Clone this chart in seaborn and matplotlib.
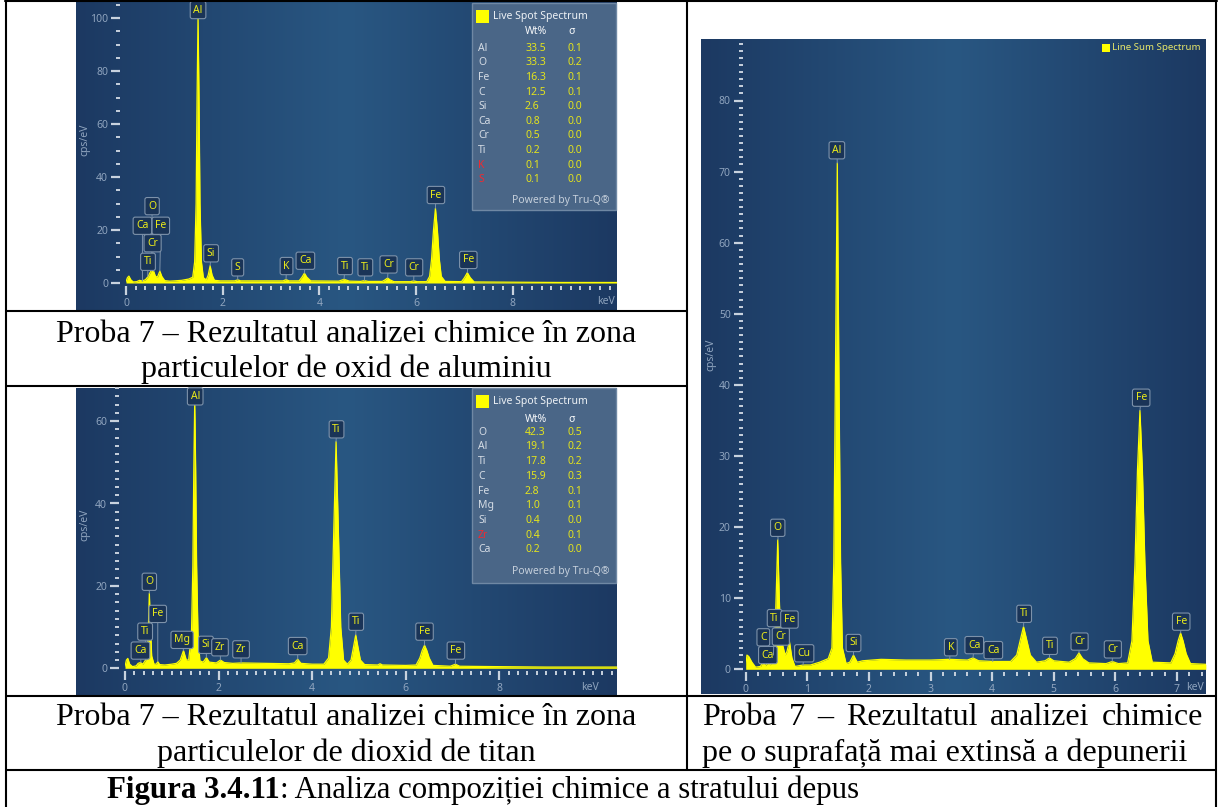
import numpy as np
import matplotlib
matplotlib.use("Agg")
import matplotlib.pyplot as plt
import matplotlib.transforms as mtransforms
from matplotlib.colors import LinearSegmentedColormap
from matplotlib.patches import Rectangle
from matplotlib.lines import Line2D
from matplotlib.ticker import MultipleLocator
import seaborn as sns

# ---------------- date ----------------
# spectrul 1: zona particulelor de oxid de aluminiu (keV, cps/eV)
spec_1 = [(0.00, 0.5), (0.03, 2.0), (0.06, 2.6), (0.10, 1.2), (0.15, 0.4), (0.22, 0.5),
          (0.28, 1.0), (0.33, 0.8), (0.40, 1.2), (0.46, 2.5), (0.50, 4.0), (0.53, 4.8),
          (0.57, 4.5), (0.61, 2.5), (0.65, 2.2), (0.70, 4.5), (0.74, 2.5), (0.80, 0.9),
          (0.90, 0.7), (1.00, 0.8), (1.15, 1.0), (1.30, 1.5), (1.38, 2.2), (1.42, 8.0),
          (1.45, 30.0), (1.47, 70.0), (1.49, 101.0), (1.51, 70.0), (1.53, 30.0), (1.56, 8.0),
          (1.60, 2.0), (1.66, 1.2), (1.70, 3.0), (1.74, 6.5), (1.78, 3.0), (1.83, 1.0),
          (1.95, 0.8), (2.25, 0.8), (2.31, 1.2), (2.37, 0.8), (3.00, 0.8), (3.25, 0.8),
          (3.31, 1.3), (3.37, 0.8), (3.58, 0.8), (3.64, 2.2), (3.69, 3.7), (3.74, 2.2),
          (3.82, 0.8), (4.40, 0.7), (4.51, 1.4), (4.62, 0.7), (4.85, 0.6), (4.93, 0.9),
          (5.01, 0.6), (5.30, 0.6), (5.36, 1.2), (5.41, 1.9), (5.46, 1.2), (5.54, 0.5),
          (5.88, 0.5), (5.95, 0.8), (6.02, 0.5), (6.22, 0.5), (6.28, 2.5), (6.32, 9.0),
          (6.36, 20.0), (6.40, 28.2), (6.44, 20.0), (6.48, 9.0), (6.52, 2.5), (6.60, 0.6),
          (6.94, 0.5), (7.00, 2.0), (7.06, 3.9), (7.12, 2.0), (7.20, 0.4), (8.00, 0.3),
          (9.00, 0.2), (10.15, 0.2)]

# spectrul 2: zona particulelor de dioxid de titan
spec_2 = [(0.00, 0.5), (0.03, 2.0), (0.06, 2.4), (0.10, 1.0), (0.16, 0.4), (0.24, 0.6),
          (0.28, 1.2), (0.33, 1.4), (0.38, 1.0), (0.44, 2.0), (0.48, 5.0), (0.50, 10.0),
          (0.52, 18.2), (0.545, 10.0), (0.57, 3.0), (0.62, 1.0), (0.67, 1.0), (0.70, 1.6),
          (0.74, 0.9), (0.85, 0.8), (1.00, 1.0), (1.10, 1.2), (1.18, 2.0), (1.25, 4.3),
          (1.31, 2.0), (1.36, 2.0), (1.42, 8.0), (1.45, 25.0), (1.47, 48.0), (1.49, 65.0),
          (1.51, 48.0), (1.53, 25.0), (1.56, 8.0), (1.60, 1.8), (1.67, 1.5), (1.74, 2.6),
          (1.80, 1.5), (1.95, 1.3), (2.04, 2.0), (2.12, 1.4), (2.30, 1.2), (2.48, 1.3),
          (3.00, 1.2), (3.50, 1.1), (3.62, 1.3), (3.69, 2.2), (3.76, 1.2), (4.00, 1.0),
          (4.25, 1.0), (4.35, 2.5), (4.41, 10.0), (4.46, 33.0), (4.51, 55.0), (4.56, 33.0),
          (4.61, 10.0), (4.67, 2.0), (4.75, 1.0), (4.83, 2.0), (4.88, 5.0), (4.93, 8.1),
          (4.98, 5.0), (5.03, 2.0), (5.12, 0.9), (5.40, 0.8), (5.45, 1.1), (5.50, 0.8),
          (6.00, 0.7), (6.22, 0.8), (6.30, 2.5), (6.35, 4.3), (6.40, 5.6), (6.45, 4.3),
          (6.50, 2.5), (6.58, 0.7), (6.95, 0.5), (7.06, 1.0), (7.15, 0.5), (8.00, 0.4),
          (9.00, 0.3), (10.51, 0.3)]

# spectrul 3: suprafata extinsa (Line Sum Spectrum)
spec_3 = [(0.00, 0.3), (0.02, 2.0), (0.05, 1.8), (0.10, 1.0), (0.16, 0.3), (0.24, 0.4),
          (0.28, 1.1), (0.32, 0.5), (0.36, 0.9), (0.40, 0.6), (0.45, 2.0), (0.48, 6.0),
          (0.50, 12.0), (0.52, 18.2), (0.545, 10.0), (0.57, 4.0), (0.60, 3.4), (0.64, 2.0),
          (0.67, 2.5), (0.71, 3.9), (0.75, 1.6), (0.80, 0.4), (0.93, 0.6), (1.05, 0.6),
          (1.20, 1.0), (1.34, 1.5), (1.40, 3.0), (1.43, 15.0), (1.46, 45.0), (1.487, 71.2),
          (1.51, 45.0), (1.54, 15.0), (1.57, 3.0), (1.63, 0.8), (1.69, 1.0), (1.75, 2.0),
          (1.81, 1.0), (1.90, 1.2), (2.20, 1.4), (2.60, 1.3), (3.00, 1.3), (3.31, 1.4),
          (3.60, 1.3), (3.69, 1.6), (3.78, 1.2), (4.01, 1.1), (4.30, 1.1), (4.40, 2.0),
          (4.46, 4.2), (4.51, 6.0), (4.56, 4.2), (4.62, 2.0), (4.72, 1.0), (4.86, 1.2),
          (4.93, 1.6), (5.00, 1.2), (5.25, 1.0), (5.35, 1.5), (5.41, 2.3), (5.47, 1.5),
          (5.57, 0.9), (5.85, 0.8), (5.95, 1.1), (6.05, 0.8), (6.20, 0.9), (6.27, 4.0),
          (6.32, 15.0), (6.36, 28.0), (6.40, 36.4), (6.44, 28.0), (6.48, 15.0), (6.53, 4.0),
          (6.60, 1.0), (6.90, 0.9), (6.97, 2.2), (7.02, 4.0), (7.06, 5.1), (7.10, 4.0),
          (7.15, 2.2), (7.22, 0.8), (7.47, 0.7)]

# etichete de picuri: (element, energie keV, inaltime pic)
tags_1 = [('Al', 1.49, 101), ('O', 0.53, 4.8), ('Ca', 0.34, 0.8), ('Fe', 0.70, 4.5),
          ('Cr', 0.57, 4.5), ('Ti', 0.45, 2.5), ('Si', 1.74, 6.5), ('S', 2.31, 1.2),
          ('K', 3.31, 1.3), ('Ca', 3.69, 3.7), ('Ti', 4.51, 1.4), ('Ti', 4.93, 0.9),
          ('Cr', 5.41, 1.9), ('Cr', 5.95, 0.8), ('Fe', 6.40, 28.2), ('Fe', 7.06, 3.9)]
tags_2 = [('Al', 1.49, 65), ('Ti', 4.51, 55), ('O', 0.52, 18.2), ('Fe', 0.70, 1.6),
          ('Ti', 0.45, 2.0), ('Ca', 0.34, 1.4), ('Mg', 1.25, 4.3), ('Si', 1.74, 2.6),
          ('Zr', 2.04, 2.0), ('Zr', 2.48, 1.3), ('Ca', 3.69, 2.2), ('Ti', 4.93, 8.1),
          ('Fe', 6.40, 5.6), ('Fe', 7.06, 1.0)]
tags_3 = [('Al', 1.487, 71.2), ('O', 0.525, 18.2), ('Fe', 6.40, 36.4), ('C', 0.28, 1.1),
          ('Ca', 0.36, 0.9), ('Ti', 0.45, 2.0), ('Cr', 0.57, 3.4), ('Fe', 0.71, 3.9),
          ('Cu', 0.93, 0.6), ('Si', 1.75, 2.0), ('K', 3.31, 1.4), ('Ca', 3.69, 1.6),
          ('Ca', 4.01, 1.1), ('Ti', 4.51, 6.0), ('Ti', 4.93, 1.6), ('Cr', 5.41, 2.3),
          ('Cr', 5.95, 1.1), ('Fe', 7.06, 5.1)]

# tabelele de compozitie (Wt%, sigma)
el_1 = ['Al', 'O', 'Fe', 'C', 'Si', 'Ca', 'Cr', 'Ti', 'K', 'S']
wt_1 = [33.5, 33.3, 16.3, 12.5, 2.6, 0.8, 0.5, 0.2, 0.1, 0.1]
sig_1 = [0.1, 0.2, 0.1, 0.1, 0.0, 0.0, 0.0, 0.0, 0.0, 0.0]
el_2 = ['O', 'Al', 'Ti', 'C', 'Fe', 'Mg', 'Si', 'Zr', 'Ca']
wt_2 = [42.3, 19.1, 17.8, 15.9, 2.8, 1.0, 0.4, 0.4, 0.2]
sig_2 = [0.5, 0.2, 0.2, 0.3, 0.1, 0.1, 0.0, 0.1, 0.0]
red_el = ['K', 'S', 'Zr']

cap_1 = ['Proba 7 – Rezultatul analizei chimice în zona', 'particulelor de oxid de aluminiu']
cap_2 = ['Proba 7 – Rezultatul analizei chimice în zona', 'particulelor de dioxid de titan']
cap_3 = ['Proba 7 – Rezultatul analizei chimice', 'pe o suprafață mai extinsă a depunerii']
fig_bold = 'Figura 3.4.11'
fig_rest = ': Analiza compoziției chimice a stratului depus'

# pozitia etichetelor (keV, cps/eV)
tagpos_1 = [(1.49, 103), (0.54, 29), (0.34, 21.6), (0.72, 21.6), (0.55, 15), (0.455, 8),
            (1.76, 11.2), (2.31, 5.9), (3.32, 6.4), (3.71, 8.4), (4.53, 6.4), (4.95, 5.9),
            (5.43, 7.0), (5.96, 5.9), (6.41, 33.2), (7.08, 8.7)]
tagpos_2 = [(1.50, 66), (4.52, 58), (0.52, 21), (0.70, 13.2), (0.43, 8.9), (0.33, 4.3),
            (1.22, 6.9), (1.73, 5.7), (2.03, 5.1), (2.48, 4.6), (3.69, 5.4), (4.94, 11.3),
            (6.40, 8.9), (7.07, 4.3)]
tagpos_3 = [(1.48, 73), (0.52, 19.9), (6.42, 38.2), (0.286, 4.5), (0.36, 2.0), (0.47, 7.2),
            (0.57, 4.6), (0.71, 7.0), (0.95, 2.25), (1.75, 3.7), (3.33, 3.1), (3.71, 3.4),
            (4.02, 2.7), (4.52, 7.8), (4.94, 3.3), (5.42, 3.9), (5.96, 2.8), (7.07, 6.7)]

# ---------------- figura ----------------
W, H = 1218, 807
sns.set_style("white")
plt.rcParams['font.family'] = ['Noto Sans', 'DejaVu Sans']

fig = plt.figure(figsize=(W / 100, H / 100), dpi=100)
fig.patch.set_facecolor('white')
PX = mtransforms.Affine2D().scale(1 / W, -1 / H).translate(0, 1) + fig.transFigure


def frac(x0, y0, x1, y1):
    return [x0 / W, 1 - y1 / H, (x1 - x0) / W, (y1 - y0) / H]


bg_cmap = LinearSegmentedColormap.from_list('eds', ['#1c3962', '#295782', '#1c3962'])
grad = np.linspace(0, 1, 256).reshape(1, -1)
TICK = '#c8d2de'
LAB = '#8fa4be'
YEL = '#ffff00'
TAGEDGE = '#7d92aa'


def draw_panel(box, origin, scale, spec, tags, tagpos, ystep, xstep, xlab_max, outward,
               ylab_at, kev_at):
    bx0, by0, bx1, by1 = box
    ox, oy = origin
    sx, sy = scale
    bg = fig.add_axes(frac(*box))
    bg.imshow(grad, aspect='auto', cmap=bg_cmap, extent=(0, 1, 0, 1))
    bg.set_axis_off()

    ax = fig.add_axes(frac(ox, by0, bx1, oy + 3))
    ax.patch.set_alpha(0)
    for s in ax.spines.values():
        s.set_visible(False)
    ax.spines['left'].set_position(('outward', outward))

    kev = [p[0] for p in spec]
    cps = [p[1] for p in spec]
    ax.fill_between(kev, 0, cps, color=YEL, lw=0, zorder=2)
    sns.lineplot(x=kev, y=cps, ax=ax, color=YEL, lw=0.9, estimator=None, sort=False, zorder=3)

    for (name, pe, ph), (tx, ty) in zip(tags, tagpos):
        ax.annotate(name, xy=(pe, ph), xytext=(tx, ty), ha='center', va='center',
                    fontsize=7.5, color='#ecec1a', zorder=5,
                    bbox=dict(boxstyle='round,pad=0.3,rounding_size=0.2', fc='#1a3457',
                              ec=TAGEDGE, lw=0.8),
                    arrowprops=dict(arrowstyle='-', color=TAGEDGE, lw=0.7,
                                    shrinkA=0, shrinkB=0))

    ax.set_xlim(0, (bx1 - ox) / sx)
    ax.set_ylim(-3 / sy, (oy - by0) / sy)
    ax.set_xticks(np.arange(0, xlab_max + 0.01, xstep[0]))
    ax.xaxis.set_minor_locator(MultipleLocator(xstep[1]))
    ax.yaxis.set_major_locator(MultipleLocator(ystep[0]))
    ax.yaxis.set_minor_locator(MultipleLocator(ystep[1]))
    ax.tick_params(which='both', direction='out', color=TICK, labelcolor=LAB,
                   labelsize=7.5, left=True, bottom=True)
    ax.tick_params(which='major', length=6.5, width=1.6, pad=2)
    ax.tick_params(which='minor', length=3, width=1.4)
    ax.set_xlabel('')
    ax.set_ylabel('')

    fig.text(ylab_at[0], ylab_at[1], 'cps/eV', transform=PX, rotation=90, ha='center',
             va='center', color=LAB, fontsize=7.5)
    fig.text(kev_at[0], kev_at[1], 'keV', transform=PX, ha='center', va='center',
             color=LAB, fontsize=7.5)
    return ax


def spot_legend(box, el, wt, sig, title_y, head_y, row_y, dy, pow_y):
    x0, y0, x1, y1 = box
    fig.add_artist(Rectangle((x0, y0), x1 - x0, y1 - y0, transform=PX, fc='#4a6687',
                             ec='#6f88a4', lw=1, zorder=3))
    fig.add_artist(Rectangle((x0 + 4, title_y - 6.5), 13, 13, transform=PX, fc=YEL,
                             ec='none', zorder=4))
    kw = dict(transform=PX, va='center', fontsize=7.5, zorder=5)
    fig.text(x0 + 21, title_y, 'Live Spot Spectrum', color='#eef2f6', **kw)
    fig.text(x0 + 53, head_y, 'Wt%', color='#f6f8fa', fontweight='bold', **kw)
    fig.text(x0 + 96, head_y, 'σ', color='#f6f8fa', fontweight='bold', **kw)
    for i, (e, w, s) in enumerate(zip(el, wt, sig)):
        y = row_y + i * dy
        fig.text(x0 + 6, y, e, color='#f02a30' if e in red_el else '#d5dce5', **kw)
        fig.text(x0 + 53, y, f'{w:.1f}', color='#e4e41c', **kw)
        fig.text(x0 + 96, y, f'{s:.1f}', color='#e4e41c', **kw)
    fig.text(x1 - 6, pow_y, 'Powered by Tru-Q®', color='#c5cfdb', ha='right',
             transform=PX, va='center', fontsize=7.5, zorder=5)


draw_panel((76, 2, 617, 310), (126, 283), (48.35, 2.65), spec_1, tags_1, tagpos_1,
           (20, 5), (2, 0.2), 8, 4.3, (85, 140), (606, 301))
spot_legend((472, 3, 616, 210), el_1, wt_1, sig_1, 16, 32, 48.3, 14.6, 201)

draw_panel((76, 388, 617, 695), (125, 668.3), (46.8, 4.12), spec_2, tags_2, tagpos_2,
           (20, 2), (2, 0.2), 8, 4.3, (85, 525), (590, 688))
spot_legend((472, 388, 616, 583), el_2, wt_2, sig_2, 401.3, 419, 432.3, 14.68, 571.3)

draw_panel((701, 39, 1206, 694), (745.7, 669.3), (61.6, 7.11), spec_3, tags_3, tagpos_3,
           (10, 1), (1, 0.2), 7, 2.2, (711, 355), (1195, 688))
fig.add_artist(Rectangle((1102, 44), 8, 8, transform=PX, fc=YEL, ec='none', zorder=4))
fig.text(1112, 48, 'Line Sum Spectrum', transform=PX, va='center', color='#e6e66a',
         fontsize=7, zorder=5)

# ---------------- tabelul si legendele ----------------
table_lines = [((5, 1217), (1, 1)), ((6, 6), (1, 807)), ((1216, 1216), (1, 807)),
               ((687, 687), (1, 770)), ((6, 687), (311, 311)), ((6, 687), (386, 386)),
               ((6, 1216), (696, 696)), ((6, 1216), (770, 770))]
for xs, ys in table_lines:
    fig.add_artist(Line2D(xs, ys, transform=PX, color='black', lw=1.5, zorder=6))

serif = dict(family='Liberation Serif', fontsize=23, color='black', transform=PX,
             va='baseline')
fig.text(346, 341.5, cap_1[0], ha='center', **serif)
fig.text(346, 377.5, cap_1[1], ha='center', **serif)
fig.text(346, 725, cap_2[0], ha='center', **serif)
fig.text(346, 761.5, cap_2[1], ha='center', **serif)

renderer = fig.canvas.get_renderer()
# primul rand din coloana dreapta este aliniat stanga-dreapta
words = cap_3[0].split(' ')
wtexts = [fig.text(0, 725, w, **serif) for w in words]
widths = [t.get_window_extent(renderer).width for t in wtexts]
gap = (1203 - 702 - sum(widths)) / (len(words) - 1)
x = 702
for t, wd in zip(wtexts, widths):
    t.set_x(x)
    x += wd + gap
fig.text(702, 761.5, cap_3[1], ha='left', **serif)

serif_fig = dict(serif, fontsize=22.2)
tb = fig.text(107, 798, fig_bold, fontweight='bold', ha='left', **serif_fig)
bw = tb.get_window_extent(renderer).width
fig.text(107 + bw, 798, fig_rest, ha='left', **serif_fig)

fig.savefig('out.png', dpi=100)
